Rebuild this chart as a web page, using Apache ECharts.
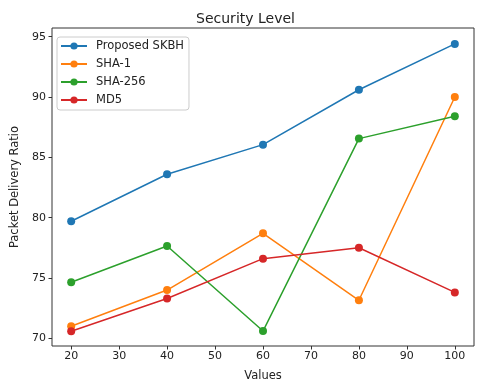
<!DOCTYPE html>
<html><head><meta charset="utf-8">
<script src="https://cdn.jsdelivr.net/npm/echarts@6/dist/echarts.min.js"></script>
<style>html,body{margin:0;padding:0;background:#fff}#c{width:491px;height:381px}</style>
</head><body><div id="c"></div>
<script>
const xValues = [20, 40, 60, 80, 100];
const seriesNames = ['Proposed SKBH', 'SHA-1', 'SHA-256', 'MD5'];
const skbh = [79.7, 83.6, 86.05, 90.6, 94.4];
const sha1 = [71.0, 74.0, 78.7, 73.15, 90.0];
const sha256 = [74.65, 77.65, 70.6, 86.55, 88.4];
const md5 = [70.58, 73.3, 76.6, 77.5, 73.8];
const xTicks = [20, 30, 40, 50, 60, 70, 80, 90, 100];
const yTicks = [70, 75, 80, 85, 90, 95];
const colors = ['#1f77b4', '#ff7f0e', '#2ca02c', '#d62728'];
const allData = [skbh, sha1, sha256, md5];

const chart = echarts.init(document.getElementById('c'), null, {renderer: 'canvas'});
const font = 'DejaVu Sans';
chart.setOption({
  animation: false,
  color: colors,
  title: {text: 'Security Level', left: 'center', top: 7, textStyle: {fontFamily: font, fontSize: 14, fontWeight: 'normal', color: '#222'}},
  grid: {left: 52, right: 17, top: 28, bottom: 35, show: true, borderColor: '#333', borderWidth: 1, backgroundColor: '#fff', outerBoundsMode: 'none', containLabel: false},
  legend: {
    orient: 'vertical', left: 57, top: 37, itemWidth: 26, itemHeight: 9, itemGap: 4,
    padding: [2, 5, 3, 3], borderColor: '#ccc', borderWidth: 1, borderRadius: 3,
    backgroundColor: 'rgba(255,255,255,0.8)',
    textStyle: {fontFamily: font, fontSize: 11.5, color: '#222', lineHeight: 14, padding: [0, 0, 0, 4]},
    data: seriesNames
  },
  xAxis: {
    type: 'value', min: 16, max: 104,
    name: 'Values', nameLocation: 'middle', nameGap: 24,
    nameTextStyle: {fontFamily: font, fontSize: 11.5, color: '#222'},
    axisLine: {show: false},
    axisTick: {show: true, length: 3.5, lineStyle: {color: '#333'}, customValues: xTicks},
    axisLabel: {fontFamily: font, fontSize: 11, color: '#222', margin: 5, customValues: xTicks},
    splitLine: {show: false}
  },
  yAxis: {
    type: 'value', min: 69.36, max: 95.72,
    name: 'Packet Delivery Ratio', nameLocation: 'middle', nameGap: 29,
    nameTextStyle: {fontFamily: font, fontSize: 11.5, color: '#222'},
    axisLine: {show: false},
    axisTick: {show: true, length: 3.5, lineStyle: {color: '#333'}, customValues: yTicks},
    axisLabel: {fontFamily: font, fontSize: 11, color: '#222', margin: 6, customValues: yTicks},
    splitLine: {show: false}
  },
  series: seriesNames.map((n, i) => ({
    name: n, type: 'line', symbol: 'circle', symbolSize: 8,
    lineStyle: {width: 1.5, color: colors[i]},
    itemStyle: {color: colors[i]},
    data: xValues.map((x, j) => [x, allData[i][j]])
  }))
});
</script></body></html>
